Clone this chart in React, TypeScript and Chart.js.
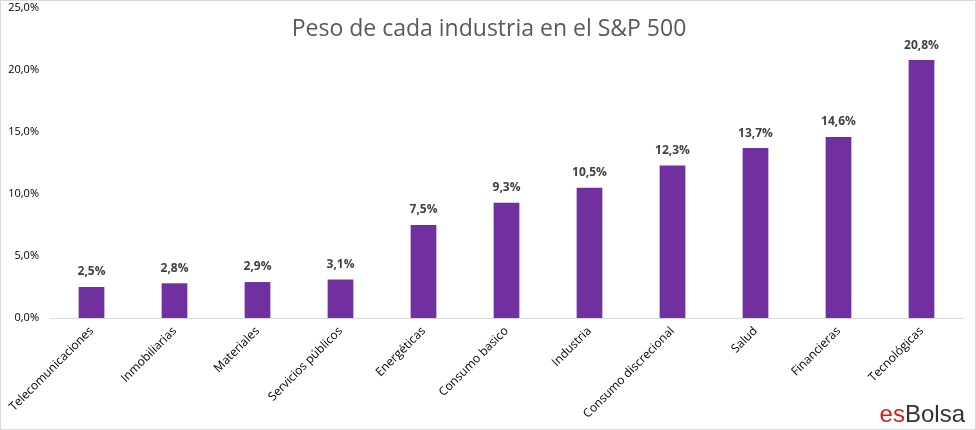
import React, { useEffect, useRef } from "react";
import { Chart, registerables } from "chart.js";

Chart.register(...registerables);

const categories = [
  "Telecomunicaciones",
  "Inmobiliarias",
  "Materiales",
  "Servicios públicos",
  "Energéticas",
  "Consumo basico",
  "Industria",
  "Consumo discrecional",
  "Salud",
  "Financieras",
  "Tecnológicas",
];
const weights = [2.5, 2.8, 2.9, 3.1, 7.5, 9.3, 10.5, 12.3, 13.7, 14.6, 20.8];
const title = "Peso de cada industria en el S&P 500";
const yMin = 0;
const yMax = 25;
const yStep = 5;

const FONT = "'Open Sans', 'Noto Sans', sans-serif";

const fmt = (v: number, d: number) => v.toFixed(d).replace(".", ",") + "%";

const overlayPlugin = {
  id: "overlay",
  afterDatasetsDraw(chart: any) {
    const ctx = chart.ctx;
    const meta = chart.getDatasetMeta(0);
    ctx.save();
    ctx.font = `bold 12px ${FONT}`;
    ctx.fillStyle = "#404040";
    ctx.textAlign = "center";
    ctx.textBaseline = "bottom";
    meta.data.forEach((bar: any, i: number) => {
      ctx.fillText(fmt(weights[i], 1), bar.x, bar.y - 9);
    });
    ctx.restore();
  },
  afterDraw(chart: any) {
    const ctx = chart.ctx;
    ctx.save();
    ctx.font = `23px ${FONT}`;
    ctx.fillStyle = "#595959";
    ctx.textAlign = "center";
    ctx.textBaseline = "middle";
    ctx.fillText(title, 489, 29);
    // logo
    ctx.font = `24px 'Liberation Sans', Arial, sans-serif`;
    ctx.textBaseline = "alphabetic";
    ctx.textAlign = "left";
    const es = "es";
    const bolsa = "Bolsa";
    const wEs = ctx.measureText(es).width;
    const wB = ctx.measureText(bolsa).width;
    const x0 = 965 - wEs - wB;
    ctx.fillStyle = "#d7191f";
    ctx.fillText(es, x0, 422);
    ctx.fillStyle = "#333333";
    ctx.fillText(bolsa, x0 + wEs, 422);
    // border
    ctx.strokeStyle = "#d9d9d9";
    ctx.lineWidth = 1;
    ctx.strokeRect(0.5, 0.5, chart.width - 1, chart.height - 1);
    ctx.restore();
  },
};

export default function App() {
  const ref = useRef<HTMLCanvasElement>(null);
  useEffect(() => {
    document.body.style.margin = "0";
    const chart = new Chart(ref.current!, {
      type: "bar",
      data: {
        labels: categories,
        datasets: [
          {
            data: weights,
            backgroundColor: "#7030a0",
            barPercentage: 0.31,
            categoryPercentage: 1,
          },
        ],
      },
      options: {
        animation: false,
        responsive: false,
        maintainAspectRatio: false,
        layout: { padding: { top: 8, right: 13, left: 0, bottom: 0 } },
        plugins: {
          legend: { display: false },
          title: { display: false },
          tooltip: { enabled: false },
        },
        scales: {
          x: {
            grid: { display: false, drawTicks: false },
            border: { display: true, color: "#d9d9d9", width: 1 },
            ticks: {
              minRotation: 45,
              maxRotation: 45,
              autoSkip: false,
              padding: 6,
              color: "#000000",
              font: { family: FONT, size: 12 },
            },
            afterFit(scale: any) {
              scale.height = 112;
              scale.paddingTop = 0;
            },
          },
          y: {
            min: yMin,
            max: yMax,
            grid: { display: false, drawTicks: false },
            border: { display: false },
            ticks: {
              stepSize: yStep,
              padding: 11,
              color: "#000000",
              font: { family: FONT, size: 11 },
              callback: (v: any) => fmt(Number(v), 1),
            },
            afterFit(scale: any) {
              scale.width = 50;
              scale.paddingTop = 0;
              scale.paddingBottom = 0;
            },
          },
        },
      },
      plugins: [overlayPlugin],
    });
    return () => chart.destroy();
  }, []);
  return <canvas ref={ref} width={976} height={430} style={{ display: "block" }} />;
}
